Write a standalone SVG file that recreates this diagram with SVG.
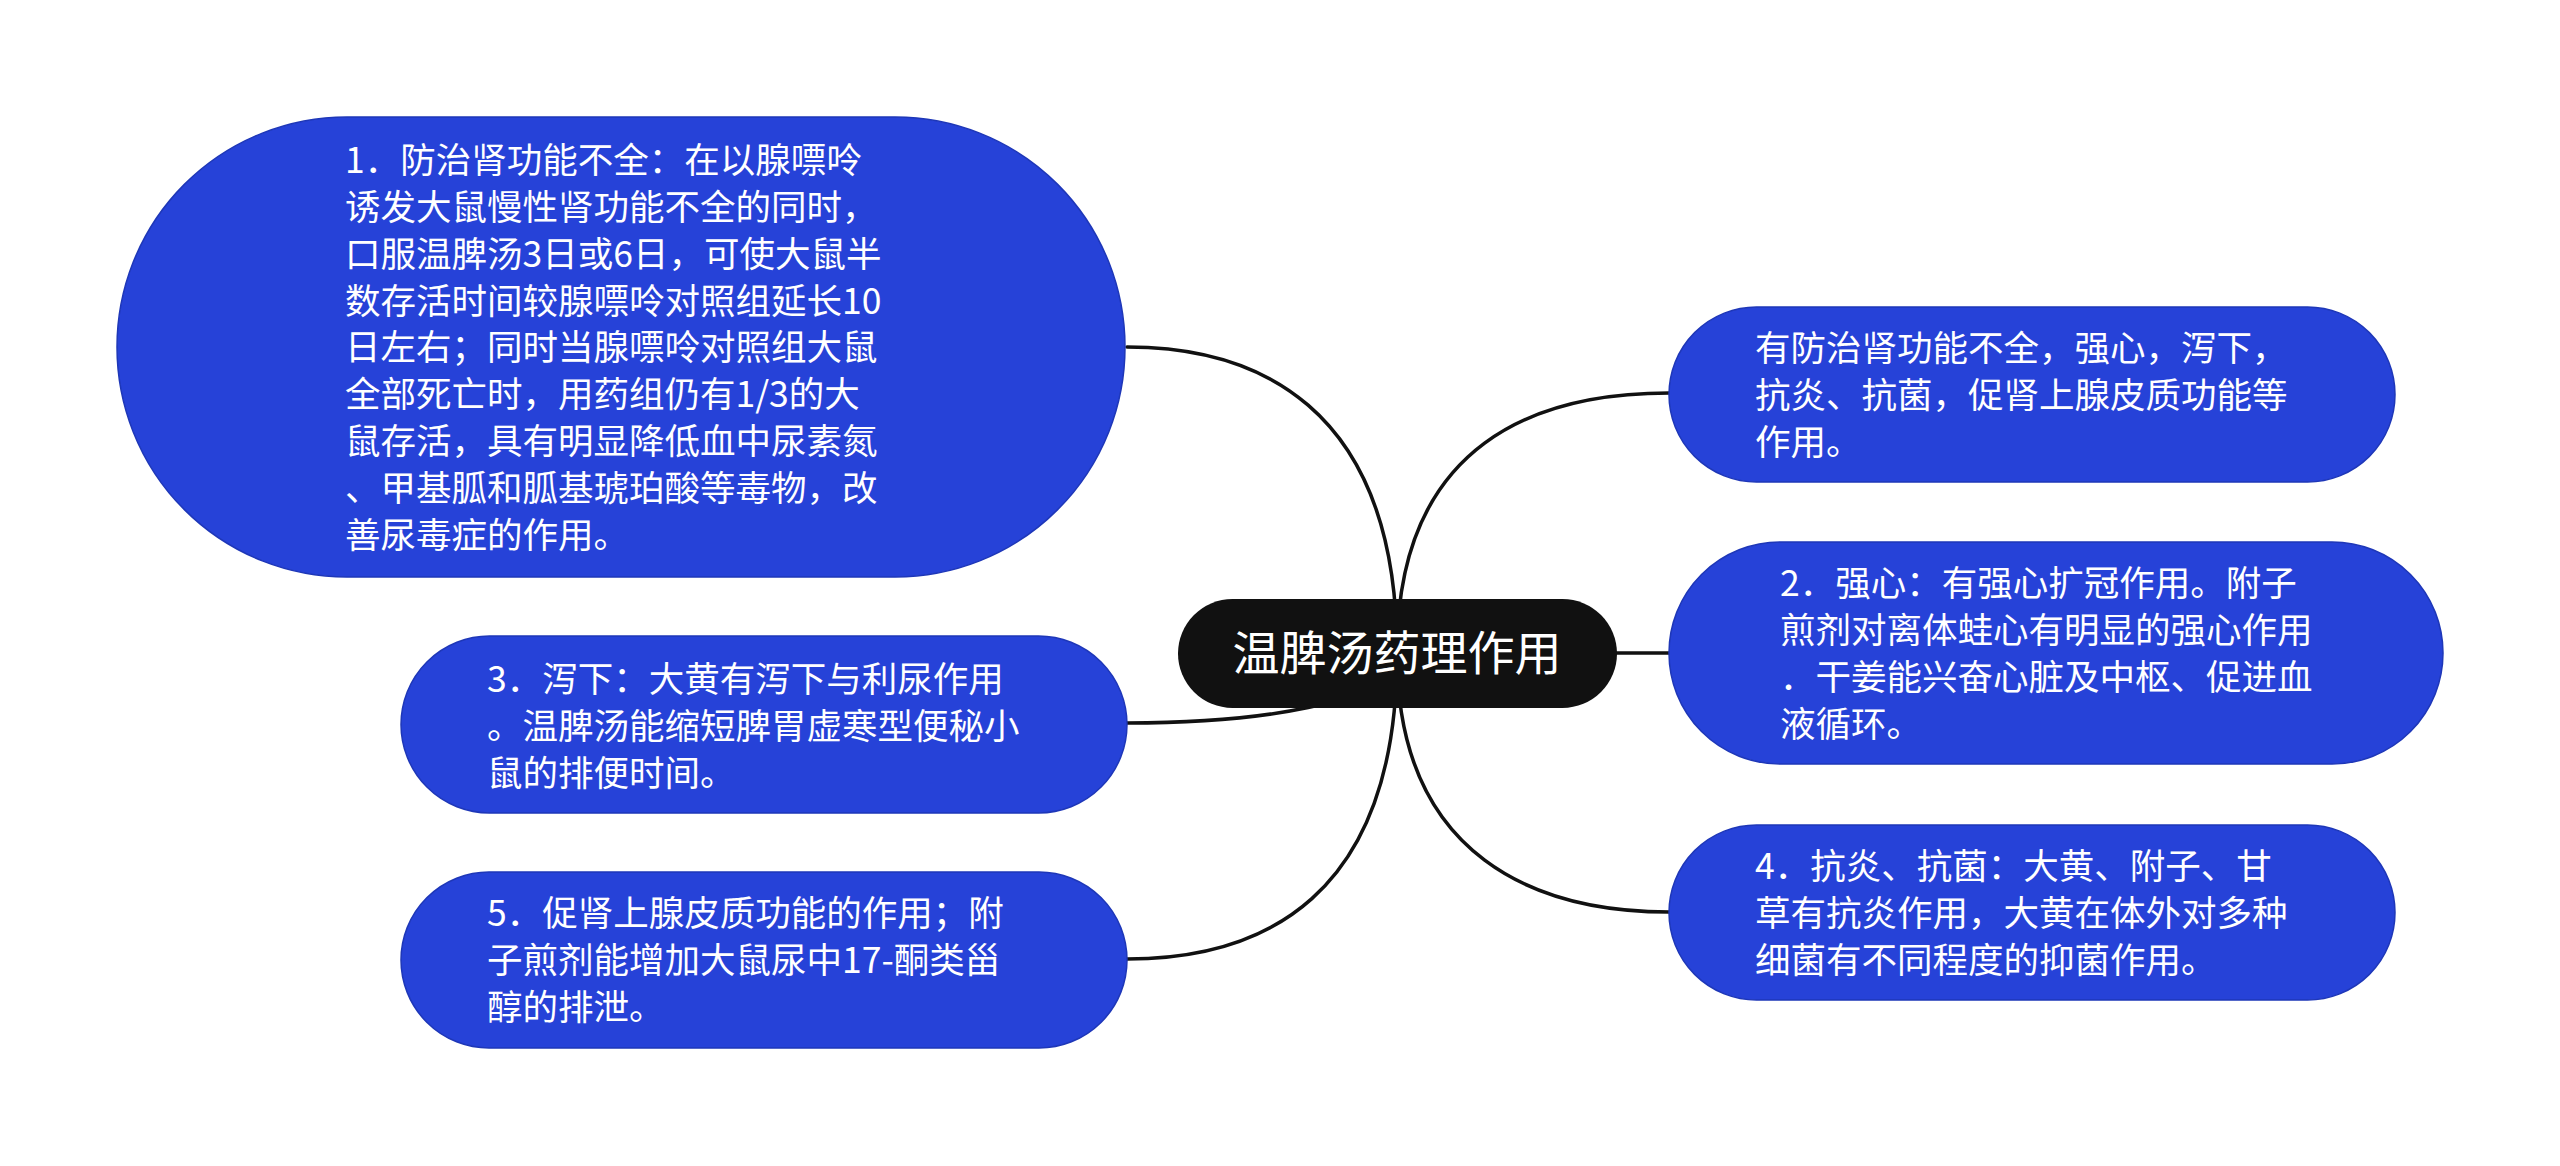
<svg xmlns="http://www.w3.org/2000/svg" width="2560" height="1166" viewBox="0 0 2560 1166">
<style>
.bg{fill:#ffffff}
.edge{fill:none;stroke:#111111;stroke-width:3.5;stroke-linecap:round}
.topic{fill:#2642D8;stroke:#1E37B8;stroke-width:1.5}
.root{fill:#111111}
.t{font-family:"Noto Sans CJK SC","Noto Sans",sans-serif;font-size:35.5px;fill:#ffffff}
.rt{font-family:"Noto Sans CJK SC","Noto Sans",sans-serif;font-size:47px;fill:#ffffff;text-anchor:middle}
</style>
<rect class="bg" x="0" y="0" width="2560" height="1166"/>
<g id="connectors">
<path class="edge" d="M1397 653 C1397 400 1250 347 1127 347"/>
<path class="edge" d="M1397 653 C1397 705 1250 723 1127 723"/>
<path class="edge" d="M1397 653 C1397 900 1260 959 1127 959"/>
<path class="edge" d="M1397 653 C1397 440 1540 393 1669 393"/>
<path class="edge" d="M1397 653 L1669 653"/>
<path class="edge" d="M1397 653 C1397 860 1540 912 1669 912"/>
</g>
<g id="node-root">
<rect class="root" x="1178" y="599" width="439" height="109" rx="54.5" ry="54.5"/>
<text class="rt" x="1397" y="670">温脾汤药理作用</text>
</g>
<g id="node-1">
<rect class="topic" x="117" y="117" width="1008" height="460" rx="230" ry="230"/>
<text class="t">
<tspan x="345" y="173">1．防治肾功能不全：在以腺嘌呤</tspan>
<tspan x="345" y="220">诱发大鼠慢性肾功能不全的同时，</tspan>
<tspan x="345" y="267">口服温脾汤3日或6日，可使大鼠半</tspan>
<tspan x="345" y="314">数存活时间较腺嘌呤对照组延长10</tspan>
<tspan x="345" y="360">日左右；同时当腺嘌呤对照组大鼠</tspan>
<tspan x="345" y="407">全部死亡时，用药组仍有1/3的大</tspan>
<tspan x="345" y="454">鼠存活，具有明显降低血中尿素氮</tspan>
<tspan x="345" y="501">、甲基胍和胍基琥珀酸等毒物，改</tspan>
<tspan x="345" y="548">善尿毒症的作用。</tspan>
</text>
</g>
<g id="node-3">
<rect class="topic" x="401" y="636" width="726" height="177" rx="88.5" ry="88.5"/>
<text class="t">
<tspan x="487" y="692">3．泻下：大黄有泻下与利尿作用</tspan>
<tspan x="487" y="739">。温脾汤能缩短脾胃虚寒型便秘小</tspan>
<tspan x="487" y="786">鼠的排便时间。</tspan>
</text>
</g>
<g id="node-5">
<rect class="topic" x="401" y="872" width="726" height="176" rx="88" ry="88"/>
<text class="t">
<tspan x="487" y="926">5．促肾上腺皮质功能的作用；附</tspan>
<tspan x="487" y="973">子煎剂能增加大鼠尿中17-酮类甾</tspan>
<tspan x="487" y="1020">醇的排泄。</tspan>
</text>
</g>
<g id="node-summary">
<rect class="topic" x="1669" y="307" width="726" height="175" rx="87.5" ry="87.5"/>
<text class="t">
<tspan x="1755" y="361">有防治肾功能不全，强心，泻下，</tspan>
<tspan x="1755" y="408">抗炎、抗菌，促肾上腺皮质功能等</tspan>
<tspan x="1755" y="455">作用。</tspan>
</text>
</g>
<g id="node-2">
<rect class="topic" x="1669" y="542" width="774" height="222" rx="111" ry="111"/>
<text class="t">
<tspan x="1780" y="596">2．强心：有强心扩冠作用。附子</tspan>
<tspan x="1780" y="643">煎剂对离体蛙心有明显的强心作用</tspan>
<tspan x="1780" y="690">．干姜能兴奋心脏及中枢、促进血</tspan>
<tspan x="1780" y="737">液循环。</tspan>
</text>
</g>
<g id="node-4">
<rect class="topic" x="1669" y="825" width="726" height="175" rx="87.5" ry="87.5"/>
<text class="t">
<tspan x="1755" y="879">4．抗炎、抗菌：大黄、附子、甘</tspan>
<tspan x="1755" y="926">草有抗炎作用，大黄在体外对多种</tspan>
<tspan x="1755" y="973">细菌有不同程度的抑菌作用。</tspan>
</text>
</g>
</svg>
